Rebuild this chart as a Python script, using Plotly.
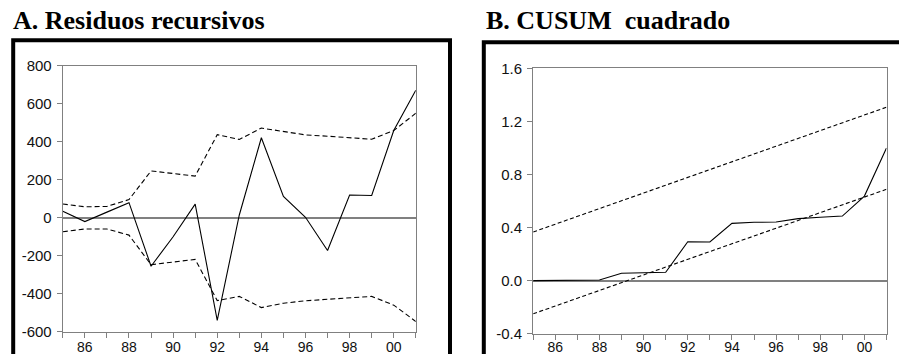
import plotly.graph_objects as go

# ---- data ----
years = list(range(1985, 2002))
resid = [35, -20, 30, 80, -255, -100, 72, -540, 15, 422, 113, 3, -172, 120, 118, 460, 672]
resid_upper = [73, 58, 60, 96, 247, 233, 220, 438, 413, 473, 455, 437, 430, 421, 414, 460, 551]
resid_lower = [-73, -59, -59, -91, -247, -233, -219, -436, -414, -473, -450, -437, -430, -421, -414, -460, -546]

cusumsq = [0, 0, 0, 0.005, 0.056, 0.06, 0.063, 0.293, 0.292, 0.432, 0.44, 0.442, 0.468, 0.478, 0.487, 0.638, 1.0]
bound_years = [1985, 2001]
cusum_upper = [0.367, 1.308]
cusum_lower = [-0.25, 0.689]

x_tickvals = years
x_ticktext = ["", "86", "", "88", "", "90", "", "92", "", "94", "", "96", "", "98", "", "00", ""]
y1_tickvals = [-600, -400, -200, 0, 200, 400, 600, 800]
y1_ticktext = ["-600", "-400", "-200", "0", "200", "400", "600", "800"]
y2_tickvals = [-0.4, 0.0, 0.4, 0.8, 1.2, 1.6]
y2_ticktext = ["-0.4", "0.0", "0.4", "0.8", "1.2", "1.6"]

title_a = "A. Residuos recursivos"
title_b = "B. CUSUM\u00a0 cuadrado"

W, H = 907, 354
GREY = "#808080"
TICKFONT = dict(family="Liberation Sans, Arial, sans-serif", size=15, color="#111111")

# mapping from target picture pixels to paper fractions (compensates page offset)
OX, OY, SY = 7.5, 16.0, 0.952
def PX(x):
    return (x - OX) / W
def PY(y):
    return 1 - ((y - OY) / SY) / H

fig = go.Figure()
fig.add_trace(go.Scatter(x=years, y=resid, mode="lines", line=dict(color="black", width=1.1),
                         xaxis="x", yaxis="y"))
fig.add_trace(go.Scatter(x=years, y=resid_upper, mode="lines",
                         line=dict(color="black", width=1.1, dash="5px,3px"), xaxis="x", yaxis="y"))
fig.add_trace(go.Scatter(x=years, y=resid_lower, mode="lines",
                         line=dict(color="black", width=1.1, dash="5px,3px"), xaxis="x", yaxis="y"))
fig.add_trace(go.Scatter(x=years, y=cusumsq, mode="lines", line=dict(color="black", width=1.1),
                         xaxis="x2", yaxis="y2"))
fig.add_trace(go.Scatter(x=bound_years, y=cusum_upper, mode="lines",
                         line=dict(color="black", width=1.1, dash="4px,2.5px"), xaxis="x2", yaxis="y2"))
fig.add_trace(go.Scatter(x=bound_years, y=cusum_lower, mode="lines",
                         line=dict(color="black", width=1.1, dash="4px,2.5px"), xaxis="x2", yaxis="y2"))

def xax(domain, anchor, standoff):
    return dict(domain=domain, anchor=anchor, range=[1985, 2001], showline=True, linecolor=GREY,
                linewidth=1.2, mirror=True, ticks="outside", ticklen=5, tickcolor=GREY, tickwidth=1.2,
                tickvals=x_tickvals, ticktext=x_ticktext, showgrid=False, zeroline=False,
                tickfont=dict(family="Liberation Sans, Arial, sans-serif", size=14, color="#111111"),
                fixedrange=True, ticklabelstandoff=standoff)

def yax(domain, anchor, rng, tv, tt):
    return dict(domain=domain, anchor=anchor, range=rng, showline=True, linecolor=GREY,
                linewidth=1.2, mirror=True, ticks="outside", ticklen=5, tickcolor=GREY, tickwidth=1.2,
                tickvals=tv, ticktext=tt, showgrid=False, zeroline=True, zerolinecolor=GREY,
                zerolinewidth=1.8, tickfont=TICKFONT, fixedrange=True, ticklabelstandoff=2)

fig.update_layout(
    width=W, height=H, margin=dict(l=0, r=0, t=0, b=0),
    paper_bgcolor="white", plot_bgcolor="white", showlegend=False,
    xaxis=xax([PX(62.3), PX(415.3)], "y", -3),
    yaxis=yax([PY(330.7), PY(65.0)], "x", [-600, 800], y1_tickvals, y1_ticktext),
    xaxis2=xax([PX(532.7), PX(886.0)], "y2", -5),
    yaxis2=yax([PY(332.7), PY(67.5)], "x2", [-0.4, 1.6], y2_tickvals, y2_ticktext),
    shapes=[
        dict(type="rect", xref="paper", yref="paper", x0=PX(12.7), x1=PX(449.5),
             y0=-0.1, y1=PY(39.3), line=dict(color="black", width=4), fillcolor="rgba(0,0,0,0)"),
        dict(type="rect", xref="paper", yref="paper", x0=PX(483.3), x1=1.1,
             y0=-0.1, y1=PY(41.3), line=dict(color="black", width=4), fillcolor="rgba(0,0,0,0)"),
    ],
    annotations=[
        dict(text="<b>" + title_a + "</b>", xref="paper", yref="paper", x=PX(10), y=PY(20),
             xanchor="left", yanchor="middle", showarrow=False,
             font=dict(family="Liberation Serif, Times New Roman, serif", size=26, color="black")),
        dict(text="<b>" + title_b + "</b>", xref="paper", yref="paper", x=PX(483), y=PY(20),
             xanchor="left", yanchor="middle", showarrow=False,
             font=dict(family="Liberation Serif, Times New Roman, serif", size=26, color="black")),
    ],
)

fig.write_html("out.html")
